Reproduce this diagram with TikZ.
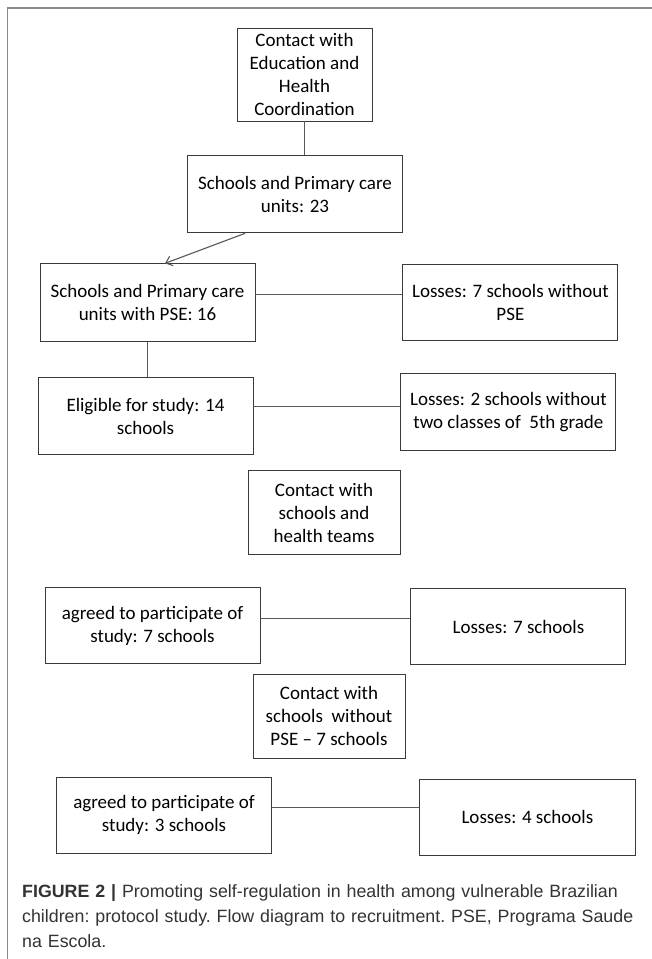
\documentclass[tikz,border=0pt]{standalone}
\usepackage{fontspec}
\setmainfont{Carlito}
\newfontfamily\capfont{Liberation Sans}
\usepackage{tikz}
\usetikzlibrary{arrows, arrows.meta, positioning, calc}
\definecolor{edge}{HTML}{3A3A3A}
\definecolor{frame}{HTML}{8A8A8A}
\definecolor{captext}{HTML}{333333}
\tikzstyle{stage} = [rectangle, minimum width=215pt, minimum height=77pt, text centered, align=center, draw=edge, line width=0.9pt, font=\fontsize{19pt}{23pt}\selectfont]
\tikzstyle{contact} = [stage, minimum width=152pt, minimum height=84pt]
\tikzstyle{link} = [draw=edge!85, line width=0.8pt]
\tikzstyle{arrow} = [link, -{Straight Barb[length=6pt, width=10pt]}, line width=1.1pt]

\begin{document}
\begin{tikzpicture}[node distance=30pt]
\useasboundingbox (0,0) rectangle (652pt,-959pt);

% Frame
\draw [frame, line width=1.3pt] (652pt,-8pt) -- (7.5pt,-8pt) -- (7.5pt,-959pt);

% Recruitment
\node (coord) [stage, minimum width=135pt, minimum height=93pt] at (304.5pt,-74.5pt) {Contact with\\Education and\\Health\\Coordination};
\node (units) [stage, below=34pt of coord, xshift=-9.5pt] {Schools and Primary care\\units: 23};
\node (pse) [stage, below=30pt of units, xshift=-147.5pt, minimum height=78pt] {Schools and Primary care\\units with PSE: 16};
\node (loss1) [stage, right=147pt of pse, minimum height=76pt] {Losses: 7 schools without\\PSE};

% Eligibility
\node (elig) [stage, below=35pt of pse, xshift=-2pt] {Eligible for study: 14\\schools};
\node (loss2) [stage, right=147pt of elig, yshift=4pt] {Losses: 2 schools without\\two classes of\ \ 5th grade};

% First contact
\node (teams) [contact, below=15pt of elig, xshift=178.5pt] {Contact with\\schools and\\health teams};
\node (agree1) [stage, below=32pt of teams, xshift=-171.5pt, minimum height=76pt] {agreed to participate of\\study: 7 schools};
\node (loss3) [stage, right=150pt of agree1, minimum height=76pt, yshift=-1pt] {Losses: 7 schools};

% Second contact
\node (nopse) [contact, below=10pt of agree1, xshift=176.5pt] {Contact with\\schools\ \ without\\PSE -- 7 schools};
\node (agree2) [stage, below=18pt of nopse, xshift=-165pt, minimum height=76pt] {agreed to participate of\\study: 3 schools};
\node (loss4) [stage, right=147pt of agree2, minimum height=76pt, minimum width=216pt, yshift=-2pt] {Losses: 4 schools};

% Caption
\node (caption) [anchor=north west, inner sep=0pt, text width=628pt, align=left, text=captext, font=\capfont\fontsize{17.8pt}{25pt}\selectfont\frenchspacing] at (22pt,-884pt) {\textbf{FIGURE 2 |} Promoting self-regulation in health among vulnerable Brazilian\\children: protocol study. Flow diagram to recruitment. PSE, Programa Saude\\na Escola.};

% Connectors
\draw [link] (coord.south) -- (coord.south |- units.north);
\draw [arrow] ([xshift=-50pt]units.south) -- ([xshift=17.5pt]pse.north);
\draw [link] ([yshift=8pt]pse.east) -- ([yshift=8pt]pse.east -| loss1.west);
\draw [link] (pse.south) -- (pse.south |- elig.north);
\draw [link] ([yshift=10pt]elig.east) -- ([yshift=10pt]elig.east -| loss2.west);
\draw [link] ([yshift=7pt]agree1.east) -- ([yshift=7pt]agree1.east -| loss3.west);
\draw [link] ([yshift=8pt]agree2.east) -- ([yshift=8pt]agree2.east -| loss4.west);

\end{tikzpicture}
\end{document}
